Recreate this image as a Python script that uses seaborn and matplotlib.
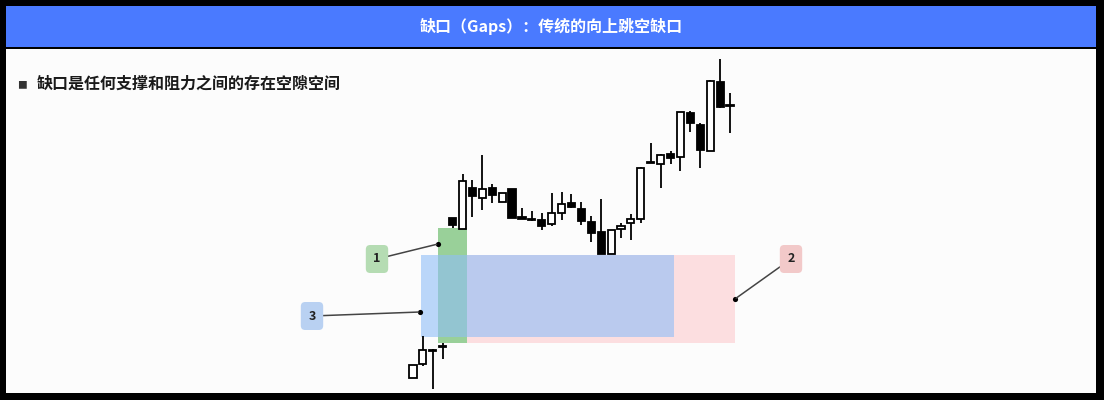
import seaborn as sns
import matplotlib.pyplot as plt
import matplotlib.patches as mpatches
import pandas as pd
import numpy as np

# OHLC of the candles (arbitrary price units)
opens  = [102.2, 103.6, 105.0, 105.3, 118.2, 117.1, 121.2, 120.2, 121.2, 119.8, 121.1,
          118.3, 118.1, 118.0, 117.6, 118.7, 119.7, 119.1, 117.8, 116.8, 114.6, 117.1,
          117.7, 118.1, 123.7, 123.6, 124.6, 124.3, 128.7, 127.5, 124.9, 131.8, 129.4]
highs  = [103.5, 106.4, 105.1, 105.7, 118.2, 122.6, 122.0, 124.5, 121.6, 120.7, 121.1,
          119.2, 118.9, 118.7, 120.7, 120.8, 120.6, 119.8, 118.4, 120.1, 117.0, 117.7,
          118.6, 123.3, 125.7, 124.6, 124.9, 128.8, 128.9, 127.7, 132.0, 134.1, 130.7]
lows   = [102.2, 103.4, 101.1, 104.1, 117.2, 117.1, 118.3, 119.0, 119.7, 119.8, 118.2,
          118.1, 117.9, 117.0, 117.4, 118.0, 119.2, 117.5, 115.8, 114.6, 114.6, 116.2,
          116.0, 117.7, 123.7, 121.2, 123.6, 122.9, 126.8, 123.2, 124.9, 129.2, 126.7]
closes = [103.5, 105.0, 104.9, 105.3, 117.5, 121.9, 120.4, 121.1, 120.5, 120.7, 118.2,
          118.1, 118.0, 117.4, 118.7, 119.6, 119.3, 117.9, 116.7, 114.6, 117.0, 117.4,
          118.1, 123.2, 123.7, 124.5, 124.2, 128.8, 127.7, 125.0, 131.9, 129.3, 129.4]

# highlighted zones: (x from, x to, price low, price high) in candle index / price
zone_pink  = (2.52, 32.5, 105.7, 114.5)
zone_green = (2.52, 5.45, 105.7, 117.2)
zone_blue  = (0.81, 26.35, 106.3, 114.5)

# numbered callouts
labels   = ["1", "2", "3"]
anchor_x = [2.52, 32.5, 0.7]
anchor_y = [115.6, 110.1, 108.8]

title = "缺口（Gaps）：传统的向上跳空缺口"
bullet = "缺口是任何支撑和阻力之间的存在空隙空间"

sns.set_theme(style="white")
plt.rcParams['font.family'] = ['Noto Sans CJK SC', 'DejaVu Sans']

df = pd.DataFrame(dict(open=opens, high=highs, low=lows, close=closes))
df["i"] = np.arange(len(df))

W, H = 1104, 400
fig = plt.figure(figsize=(W / 100, H / 100), dpi=100, facecolor="black")

# white panel, scaled so candle 0 sits at px 413 and step is ~9.9 px
px0, step = 413, 9.906
left, right, top, bottom = 6, 1096, 49, 393
ax = fig.add_axes([left / W, 1 - bottom / H, (right - left) / W, (bottom - top) / H])
ax.set_facecolor("#FCFCFC")
ax.set_xlim((left - px0) / step, (right - px0) / step)
ax.set_ylim(140 - bottom / 10, 140 - top / 10)
ax.set_xticks([])
ax.set_yticks([])
sns.despine(ax=ax, left=True, bottom=True)

# zones
for (x0, x1, y0, y1), fc, a, z in [(zone_pink, "#FCDEE0", 1.0, 1),
                                   (zone_green, "#99D099", 1.0, 2),
                                   (zone_blue, "#8FBEF8", 0.6, 2.5)]:
    ax.add_patch(mpatches.Rectangle((x0, y0), x1 - x0, y1 - y0, fc=fc, ec="none", alpha=a, zorder=z))

# candles
up = df["close"] >= df["open"]
body_lo = df[["open", "close"]].min(axis=1)
body_h = (df["close"] - df["open"]).abs().clip(lower=0.12)
ax.vlines(df["i"], df["low"], df["high"], color="black", lw=1.3, zorder=3)
ax.bar(df["i"][up], body_h[up], bottom=body_lo[up], width=0.72,
       color="white", edgecolor="black", lw=1.3, zorder=4)
ax.bar(df["i"][~up], body_h[~up], bottom=body_lo[~up], width=0.72,
       color="black", edgecolor="black", lw=1.3, zorder=4)

# callouts
sns.scatterplot(x=anchor_x, y=anchor_y, color="black", s=14, linewidth=0, ax=ax, zorder=6)
box_pos = [(377, H - 259), (791, H - 259), (312, H - 316)]
box_col = ["#B5DCB3", "#F2C9C9", "#B9D1F2"]
for lab, x, y, pos, c in zip(labels, anchor_x, anchor_y, box_pos, box_col):
    ax.annotate(lab, xy=(x, y), xycoords="data", xytext=pos, textcoords="figure pixels",
                ha="center", va="center", fontsize=9, fontweight="bold", color="#222222",
                bbox=dict(boxstyle="round,pad=0.6,rounding_size=0.35", fc=c, ec="none"),
                arrowprops=dict(arrowstyle="-", color="#444444", lw=1.1, shrinkA=0, shrinkB=1),
                zorder=7)

# header bar
fig.add_artist(mpatches.Rectangle((6 / W, 1 - 46.6 / H), 1090 / W, 40.6 / H,
                                  transform=fig.transFigure, fc="#4A7AFF", ec="none"))
fig.text(551 / W, 1 - 26 / H, title, color="white", fontsize=11.5,
         fontweight="bold", ha="center", va="center")

# bullet line
fig.text(22 / W, 1 - 85 / H, "■", fontsize=7, color="#333333", ha="center", va="center")
fig.text(37 / W, 1 - 84 / H, bullet, fontsize=11.5, fontweight="bold",
         color="#1A1A1A", ha="left", va="center")

fig.savefig("out.png", dpi=100, facecolor="black")
